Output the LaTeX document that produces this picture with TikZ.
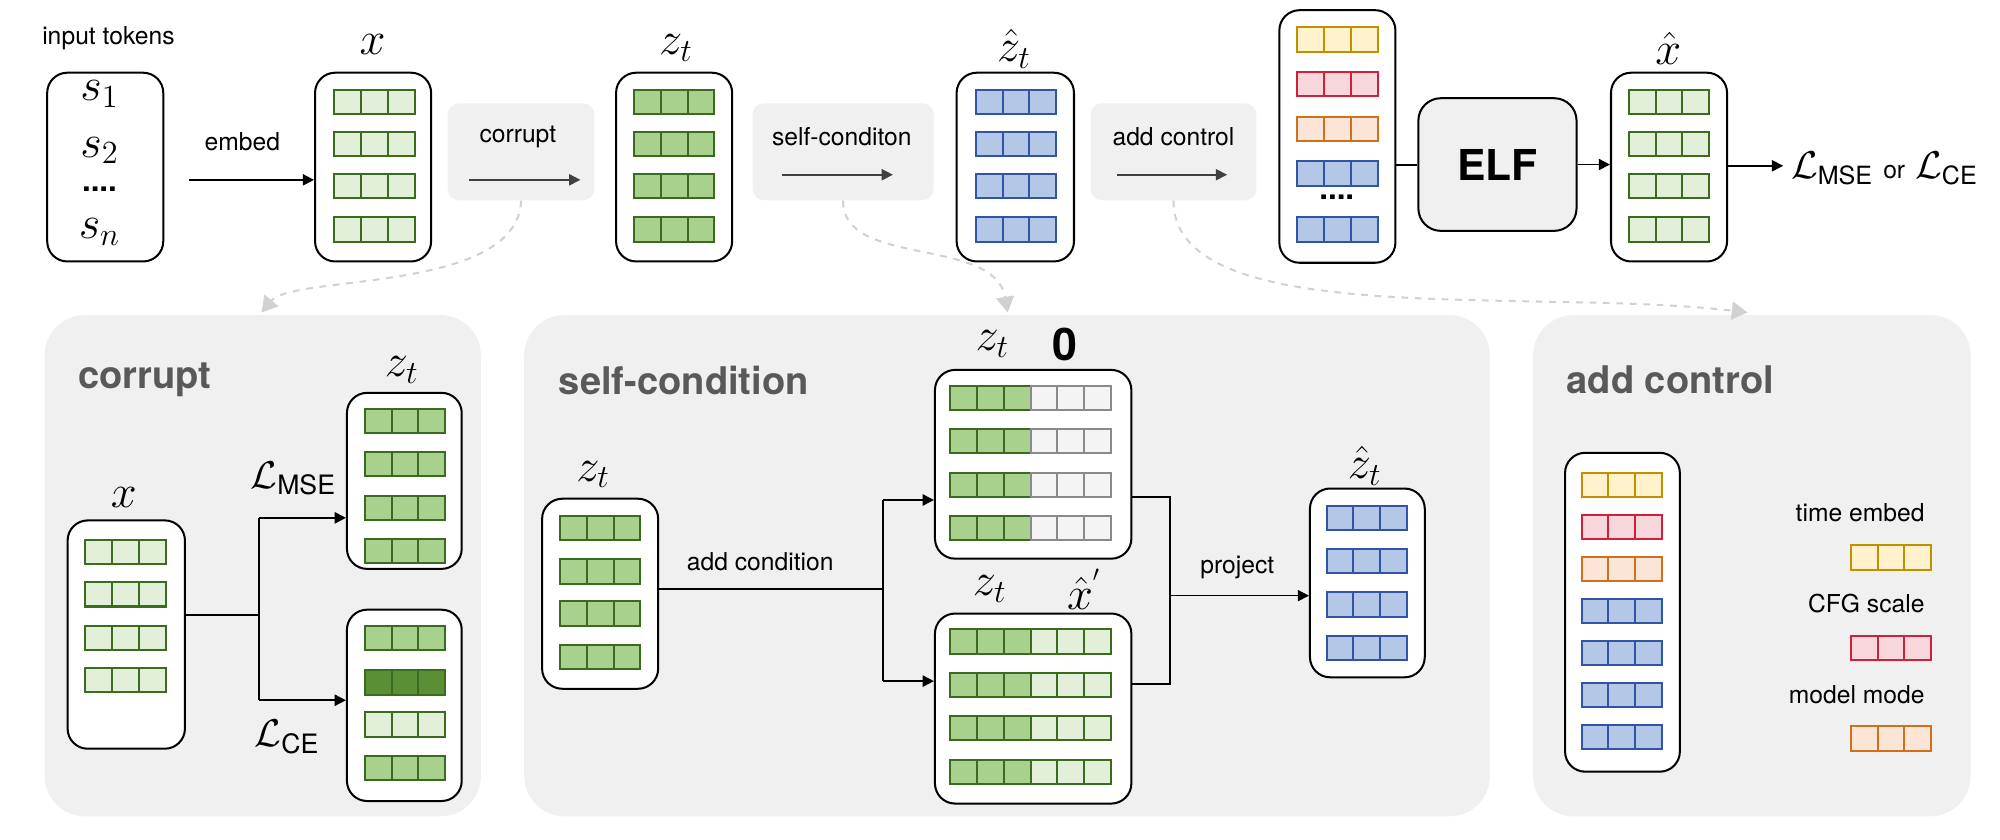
\documentclass[tikz,border=0pt]{standalone}
\usepackage{fontspec}
\setmainfont{TeX Gyre Heros}
\usetikzlibrary{fit,arrows.meta}
\definecolor{lg}{HTML}{E2F0D9}\definecolor{mg}{HTML}{A9D18E}\definecolor{dg}{HTML}{5B8F35}\definecolor{gb}{HTML}{3A6B1F}
\definecolor{bf}{HTML}{B4C7E7}\definecolor{bd}{HTML}{2F55A4}
\definecolor{yf}{HTML}{FFF2CC}\definecolor{yd}{HTML}{C09000}
\definecolor{rf}{HTML}{F8D7DC}\definecolor{rd}{HTML}{D0213A}
\definecolor{of}{HTML}{FBE5D6}\definecolor{od}{HTML}{D0701C}
\definecolor{pf}{HTML}{F0F0F0}\definecolor{gf}{HTML}{F4F4F4}\definecolor{gd}{HTML}{8A8A8A}
\newcommand\crow[5]{\foreach \i in {1,...,#3}{\draw[fill=#4,draw=#5,line width=0.9pt] ({#1+(\i-1)*21},{#2-9.5}) rectangle ++(21,19);}}
\begin{document}
\begin{tikzpicture}[x=0.02cm,y=-0.02cm,
 box/.style={draw=black,line width=0.9pt,rounded corners=9pt,fill=white,inner sep=0pt},
 panel/.style={fill=pf,rounded corners=18pt,draw=none,inner sep=0pt},
 gbox/.style={fill=pf,rounded corners=5pt,draw=none,inner sep=0pt},
 lbl/.style={font=\fontsize{11}{13}\selectfont},
 ttl/.style={font=\fontsize{17}{19}\selectfont\bfseries,text=black!65},
 mth/.style={font=\fontsize{20}{22}\selectfont},
 arr/.style={-{Triangle[length=5pt,width=5pt]},line width=0.7pt},
 ln/.style={line width=0.9pt},
 dsh/.style={dashed,draw=black!18,line width=0.9pt,-{Triangle[length=7pt,width=8pt]}}]
\useasboundingbox (0,0) rectangle (1568,658);
% top gray label boxes
\node[gbox,fit={(351,81)(466,157)}] (gc) {};
\node[gbox,fit={(590,81)(732,157)}] (gs) {};
\node[gbox,fit={(855,81)(985,157)}] (ga) {};
% panels
\node[panel,fit={(35,247)(377,640)}] (pc) {};
\node[panel,fit={(411,247)(1168,640)}] (ps) {};
\node[panel,fit={(1202,247)(1545,640)}] (pa) {};
% top row
\node[lbl] (it) at (85,30) {input tokens};
\node[box,fit={(37,57)(128,205)}] (tok) {};
\node[mth] (s1) at (78,74) {$s_1$};
\node[mth] (s2) at (78,118) {$s_2$};
\node[font=\fontsize{14}{14}\selectfont\bfseries] (sd) at (78,148) {....};
\node[mth] (sn) at (78,182) {$s_n$};
\node[box,fit={(247,57)(338,205)}] (bx) {};
\node[mth] (lx) at (292,35) {$x$};
\foreach \y in {80,113,146,180}{\crow{262}{\y}{3}{lg}{gb}}
\node[lbl] (le) at (190,111) {embed};
\coordinate (ea) at (148,141);
\draw[arr] (ea) -- (bx.west|-ea);
\node[lbl] (lc) at (406,107) {corrupt};
\coordinate (c1) at (368,141);\coordinate (c2) at (455,141);
\draw[arr,black!75] (c1) -- (c2);
\node[box,fit={(483,57)(574,205)}] (bz) {};
\node[mth] (lz) at (530,38) {$z_t$};
\foreach \y in {80,113,146,180}{\crow{497}{\y}{3}{mg}{gb}}
\node[lbl] (ls) at (660,107) {self-conditon};
\coordinate (s1a) at (613,137);\coordinate (s2a) at (700,137);
\draw[arr,black!75] (s1a) -- (s2a);
\node[box,fit={(750,57)(842,205)}] (bzh) {};
\node[mth] (lzh) at (795,38) {$\hat z_t$};
\foreach \y in {80,113,146,180}{\crow{765}{\y}{3}{bf}{bd}}
\node[lbl] (la) at (920,107) {add control};
\coordinate (a1) at (876,137);\coordinate (a2) at (962,137);
\draw[arr,black!75] (a1) -- (a2);
\node[box,fit={(1003,8)(1094,206)}] (stk) {};
\crow{1017}{31}{3}{yf}{yd}
\crow{1017}{66}{3}{rf}{rd}
\crow{1017}{101}{3}{of}{od}
\crow{1017}{136}{3}{bf}{bd}
\node[font=\fontsize{14}{14}\selectfont\bfseries] (sdt) at (1048,155) {....};
\crow{1017}{180}{3}{bf}{bd}
\node[draw=black,line width=0.9pt,rounded corners=10pt,fill=pf,inner sep=0pt,fit={(1112,77)(1236,181)}] (elf) {};
\node[font=\fontsize{19}{21}\selectfont\bfseries] at (elf) {ELF};
\node[box,fit={(1263,57)(1354,205)}] (bxh) {};
\node[mth] (lxh) at (1308,38) {$\hat x$};
\foreach \y in {80,113,146,180}{\crow{1277}{\y}{3}{lg}{gb}}
\draw[ln] (stk.east|-elf) -- (elf.west);
\draw[arr] (elf.east) -- (bxh.west|-elf);
\coordinate (lo) at (1398,130);
\draw[arr] (bxh.east|-lo) -- (lo);
\node[anchor=west,font=\fontsize{16}{17}\selectfont] (loss) at (1398,132) {$\mathcal{L}_{\mathrm{MSE}}$ {\fontsize{11}{12}\selectfont or} $\mathcal{L}_{\mathrm{CE}}$};
% dashed curves
\coordinate (d1) at (205,245);\coordinate (d2) at (790,245);\coordinate (d3) at (1370,245);
\draw[dsh] (gc.south) .. controls (406,230) and (230,215) .. (d1);
\draw[dsh] (gs.south) .. controls (660,210) and (780,185) .. (d2);
\draw[dsh] (ga.south) .. controls (920,260) and (1200,225) .. (d3);
% corrupt panel
\node[ttl,anchor=west] (tc) at (55,298) {corrupt};
\node[box,fit={(53,408)(145,587)}] (cx) {};
\node[mth] at (97,390) {$x$};
\foreach \y in {433,466,500,533}{\crow{67}{\y}{3}{lg}{gb}}
\node[box,fit={(272,308)(362,446)}] (cz1) {};
\node[mth] at (315,290) {$z_t$};
\foreach \y in {330,364,398,432}{\crow{286}{\y}{3}{mg}{gb}}
\node[box,fit={(272,478)(362,628)}] (cz2) {};
\crow{286}{500}{3}{mg}{gb}
\crow{286}{535}{3}{dg}{gb}
\crow{286}{568}{3}{lg}{gb}
\crow{286}{602}{3}{mg}{gb}
\coordinate (cs) at (203,482);
\coordinate (cu) at (203,406);\coordinate (cd) at (203,549);
\draw[ln] (cx.east|-cs) -- (cs);
\draw[ln] (cu) -- (cd);
\draw[arr] (cu) -- (cz1.west|-cu);
\draw[arr] (cd) -- (cz2.west|-cd);
\node[font=\fontsize{17}{18}\selectfont] at (230,375) {$\mathcal{L}_{\mathrm{MSE}}$};
\node[font=\fontsize{17}{18}\selectfont] at (225,578) {$\mathcal{L}_{\mathrm{CE}}$};
% self-condition panel
\node[ttl,anchor=west] (ts) at (432,298) {self-condition};
\node[box,fit={(425,391)(516,540)}] (sz) {};
\node[mth] at (465,372) {$z_t$};
\foreach \y in {414,448,481,515}{\crow{439}{\y}{3}{mg}{gb}}
\node[box,fit={(733,290)(887,438)}] (s0) {};
\node[mth] at (778,270) {$z_t$};
\node[mth] at (835,270) {$\mathbf{0}$};
\foreach \y in {312,346,380,414}{\crow{745}{\y}{3}{mg}{gb}\crow{808}{\y}{3}{gf}{gd}}
\node[box,fit={(733,481)(887,630)}] (sxh) {};
\node[mth] at (776,462) {$z_t$};
\node[mth] at (850,462) {$\hat x^{'}$};
\foreach \y in {503,537,571,605}{\crow{745}{\y}{3}{mg}{gb}\crow{808}{\y}{3}{lg}{gb}}
\coordinate (sc) at (692,462);
\coordinate (su) at (692,392);\coordinate (sd2) at (692,534);
\draw[ln] (sz.east|-sc) -- (sc);
\node[lbl] at (596,440) {add condition};
\draw[ln] (su) -- (sd2);
\draw[arr] (su) -- (s0.west|-su);
\draw[arr] (sd2) -- (sxh.west|-sd2);
\coordinate (pu) at (917,390);\coordinate (pd) at (917,536);\coordinate (pm) at (917,467);
\draw[ln] (s0.east|-pu) -- (pu) -- (pd) -- (sxh.east|-pd);
\node[box,fit={(1027,383)(1117,531)}] (pz) {};
\draw[arr] (pm) -- (pz.west|-pm);
\node[lbl] at (970,445) {project};
\node[mth] at (1070,365) {$\hat z_t$};
\foreach \y in {406,440,474,508}{\crow{1040}{\y}{3}{bf}{bd}}
% add control panel
\node[ttl,anchor=west] (ta) at (1222,298) {add control};
\node[box,fit={(1227,355)(1317,605)}] (ac) {};
\crow{1240}{380}{3}{yf}{yd}
\crow{1240}{413}{3}{rf}{rd}
\crow{1240}{446}{3}{of}{od}
\foreach \y in {479,512,545,578}{\crow{1240}{\y}{3}{bf}{bd}}
\node[lbl,anchor=east] at (1515,402) {time embed};
\crow{1451}{437}{3}{yf}{yd}
\node[lbl,anchor=east] at (1515,473) {CFG scale};
\crow{1451}{508}{3}{rf}{rd}
\node[lbl,anchor=east] at (1515,545) {model mode};
\crow{1451}{579}{3}{of}{od}
\end{tikzpicture}
\end{document}
